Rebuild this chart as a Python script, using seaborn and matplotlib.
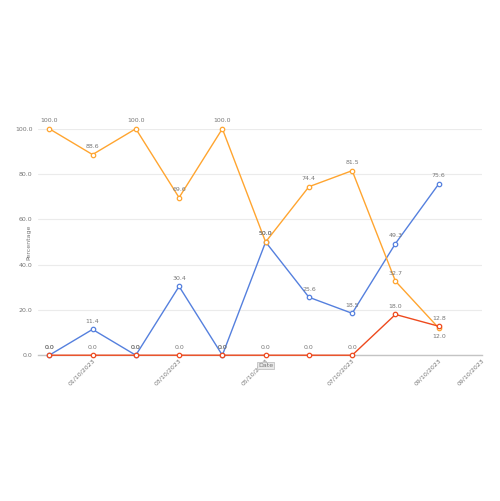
import pandas as pd
import matplotlib.pyplot as plt
import seaborn as sns
from matplotlib.ticker import MultipleLocator

# Series values
points = list(range(10))
blue_vals = [0.0, 11.4, 0.0, 30.4, 0.0, 50.0, 25.6, 18.5, 49.3, 75.6]
orange_vals = [100.0, 88.6, 100.0, 69.6, 100.0, 50.0, 74.4, 81.5, 32.7, 12.0]
red_vals = [0.0, 0.0, 0.0, 0.0, 0.0, 0.0, 0.0, 0.0, 18.0, 12.8]

tick_pos = [1, 3, 5, 7, 9, 10]
tick_labels = ["01/10/2023", "03/10/2023", "05/10/2023", "07/10/2023", "09/10/2023", "09/10/2023"]

series = [
    ("blue", blue_vals, "#5580DE"),
    ("orange", orange_vals, "#FFA530"),
    ("red", red_vals, "#EE4A1E"),
]

sns.set_style("white")
fig = plt.figure(figsize=(5.0, 5.01), dpi=100)
ax = fig.add_axes([0.076, 0.291, 0.888, 0.452])

for name, vals, col in series:
    df = pd.DataFrame({"x": points, "y": vals})
    sns.lineplot(data=df, x="x", y="y", color=col, linewidth=1.0, marker="o",
                 markersize=3.2, markerfacecolor="white", markeredgecolor=col,
                 markeredgewidth=0.9, ax=ax, clip_on=False, zorder=3)
    for i, (x, v) in enumerate(zip(points, vals)):
        # the last orange label sits under its point so it doesn't cover the red one
        below = name == "orange" and i == len(vals) - 1
        ax.annotate(f"{v:.1f}", (x, v), xytext=(0, -4 if below else 4),
                    textcoords="offset points", ha="center",
                    va="top" if below else "bottom", fontsize=4.5, color="#777777")

ax.set_xlim(-0.26, 10)
ax.set_ylim(0, 100)
ax.set_yticks([0, 20, 40, 60, 80, 100])
ax.set_yticklabels([f"{t:.1f}" for t in [0, 20, 40, 60, 80, 100]])
ax.yaxis.set_minor_locator(MultipleLocator(4))
ax.set_xticks(tick_pos)
ax.set_xticklabels(tick_labels, rotation=45, ha="right", rotation_mode="anchor")

ax.grid(axis="y", color="#ebebeb", linewidth=0.8)
ax.set_axisbelow(True)
for s in ["top", "right", "left"]:
    ax.spines[s].set_visible(False)
ax.spines["bottom"].set_color("#c4c4c4")
ax.spines["bottom"].set_linewidth(1.0)

ax.tick_params(axis="y", which="major", length=3, color="#c4c4c4", labelsize=4.5,
               labelcolor="#777777", pad=1)
ax.tick_params(axis="y", which="minor", length=1.2, color="#999999", width=0.6)
ax.tick_params(axis="x", length=2, direction="in", color="#c4c4c4", labelsize=4.5,
               labelcolor="#777777", pad=2)

ax.set_ylabel("Percentage", fontsize=4.5, color="#777777", labelpad=-12)
ax.set_xlabel("")
ax.text(5, -3.5, "Date", fontsize=4.5, color="#777777", ha="center", va="top",
        bbox=dict(boxstyle="square,pad=0.15", fc="#e8e8e8", ec="#aaaaaa", lw=0.4))

fig.savefig("out.png", dpi=100)
